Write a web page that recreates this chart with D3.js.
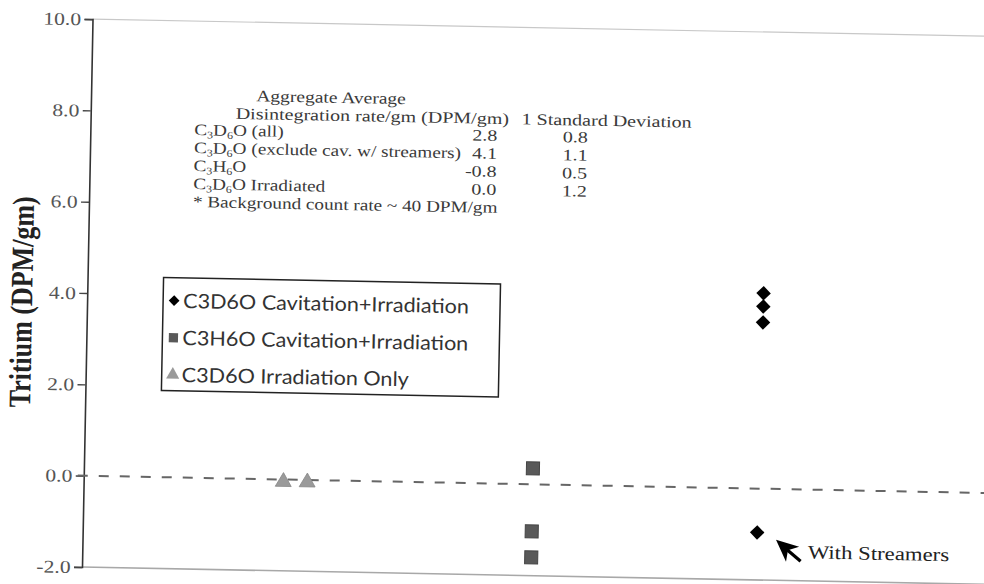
<!DOCTYPE html>
<html>
<head>
<meta charset="utf-8">
<script src="https://cdn.jsdelivr.net/npm/d3@7/dist/d3.min.js"></script>
<style>
  html, body { margin: 0; padding: 0; background: #fff; }
  svg { display: block; }
</style>
</head>
<body>
<svg id="chart" width="984" height="584"></svg>
<script>
// ---------------- data ----------------
const yTicks = [-2, 0, 2, 4, 6, 8, 10];
const yLabel = "Tritium (DPM/gm)";

// C3D6O Irradiation Only
const irrX = [2.17, 2.43];
const irrY = [-0.05, -0.05];
// C3H6O Cavitation+Irradiation
const h6X = [4.88, 4.88, 4.88];
const h6Y = [0.35, -1.03, -1.60];
// C3D6O Cavitation+Irradiation (last point = with streamers)
const d6X = [7.35, 7.35, 7.35, 7.33];
const d6Y = [4.28, 3.99, 3.64, -0.96];

const legendNames = ["C3D6O Cavitation+Irradiation", "C3H6O Cavitation+Irradiation", "C3D6O Irradiation Only"];

// summary table
const tableTitle1 = "Aggregate Average";
const tableTitle2 = "Disintegration rate/gm (DPM/gm)";
const tableTitle3 = "1 Standard Deviation";
const rowLabels = [
  [["C", ""], ["3", "sub"], ["D", ""], ["6", "sub"], ["O (all)", ""]],
  [["C", ""], ["3", "sub"], ["D", ""], ["6", "sub"], ["O (exclude cav. w/ streamers)", ""]],
  [["C", ""], ["3", "sub"], ["H", ""], ["6", "sub"], ["O", ""]],
  [["C", ""], ["3", "sub"], ["D", ""], ["6", "sub"], ["O Irradiated", ""]]
];
const rowAvg = ["2.8", "4.1", "-0.8", "0.0"];
const rowSD = ["0.8", "1.1", "0.5", "1.2"];
const footnote = "* Background count rate ~ 40 DPM/gm";
const annotation = "With Streamers";

// ---------------- layout ----------------
const W = 984, H = 584;
const mLeft = 82, mTop = 19, mBottom = 567, mRight = 1002;
const SX = 1.2; // horizontal stretch of the scanned text
const svg = d3.select("#chart");
svg.append("rect").attr("width", W).attr("height", H).attr("fill", "#fff");

const g = svg.append("g").attr("transform", `rotate(1.1, ${mLeft}, ${mBottom})`);

const x = d3.scaleLinear().domain([0, 10]).range([mLeft, mRight]);
const y = d3.scaleLinear().domain([-2, 10]).range([mBottom, mTop]);

const serif = "'Liberation Serif', 'Times New Roman', serif";
const sans = "Lato, 'Open Sans', sans-serif";

function stext(parent, px, py, sx) {
  return parent.append("text").attr("transform", `translate(${px},${py}) scale(${sx},1)`);
}

// top border & bottom axis line
g.append("line").attr("x1", mLeft).attr("x2", mRight + 20).attr("y1", y(10)).attr("y2", y(10))
  .attr("stroke", "#c8c8c8").attr("stroke-width", 1.2);
g.append("line").attr("x1", mLeft).attr("x2", mRight + 20).attr("y1", y(-2)).attr("y2", y(-2))
  .attr("stroke", "#a8a8a8").attr("stroke-width", 1.6);

// y axis
const yAxis = d3.axisLeft(y).tickValues(yTicks).tickFormat(d => d.toFixed(1)).tickSize(8).tickPadding(2);
const ya = g.append("g").attr("transform", `translate(${mLeft},0)`).call(yAxis);
ya.select(".domain").attr("stroke", "#333").attr("stroke-width", 1.6);
ya.selectAll(".tick line").attr("stroke", "#444").attr("stroke-width", 1.4);
ya.selectAll(".tick text")
  .attr("font-family", serif).attr("font-size", 18).attr("fill", "#555")
  .attr("x", -9.5).attr("transform", `scale(${SX},1)`);

// y label
g.append("text")
  .attr("transform", `translate(27, ${(y(10) + y(-2)) / 2 + 10}) scale(${SX},1) rotate(-90)`)
  .attr("text-anchor", "middle")
  .attr("font-family", serif).attr("font-weight", "bold").attr("font-size", 26).attr("fill", "#222")
  .text(yLabel);

// zero dashed line
g.append("line").attr("x1", mLeft - 6).attr("x2", mRight + 20).attr("y1", y(0)).attr("y2", y(0))
  .attr("stroke", "#666").attr("stroke-width", 2).attr("stroke-dasharray", "10,11");

// markers
const diamond = d3.symbol().type(d3.symbolSquare).size(105);
const square = d3.symbol().type(d3.symbolSquare).size(170);
const tri = d3.symbol().type(d3.symbolTriangle).size(110);

g.selectAll(".irr").data(irrX.map((v, i) => [v, irrY[i]])).join("path")
  .attr("d", tri).attr("transform", d => `translate(${x(d[0])},${y(d[1])})`)
  .attr("fill", "#9a9a9a").attr("stroke", "#888").attr("stroke-width", 0.8);

g.selectAll(".h6").data(h6X.map((v, i) => [v, h6Y[i]])).join("path")
  .attr("d", square).attr("transform", d => `translate(${x(d[0])},${y(d[1])})`)
  .attr("fill", "#595959").attr("stroke", "#444").attr("stroke-width", 1);

g.selectAll(".d6").data(d6X.map((v, i) => [v, d6Y[i]])).join("path")
  .attr("d", diamond).attr("transform", d => `translate(${x(d[0])},${y(d[1])}) rotate(45)`)
  .attr("fill", "#000");

// arrow annotation pointing to the streamer point
const sx = x(d6X[3]), sy = y(d6Y[3]);
const tip = [sx + 19, sy + 7], tail = [sx + 44, sy + 28];
g.append("line").attr("x1", tail[0]).attr("y1", tail[1]).attr("x2", tip[0] + 8).attr("y2", tip[1] + 7)
  .attr("stroke", "#000").attr("stroke-width", 3.2);
{
  const ang = Math.atan2(tail[1] - tip[1], tail[0] - tip[0]);
  const L = 22, Wd = 10;
  const bx = tip[0] + L * Math.cos(ang), by = tip[1] + L * Math.sin(ang);
  const px = -Math.sin(ang) * Wd, py = Math.cos(ang) * Wd;
  const notch = [tip[0] + 0.72 * L * Math.cos(ang), tip[1] + 0.72 * L * Math.sin(ang)];
  g.append("path")
    .attr("d", `M${tip[0]},${tip[1]} L${bx + px},${by + py} L${notch[0]},${notch[1]} L${bx - px},${by - py} Z`)
    .attr("fill", "#000");
}
stext(g, sx + 51, sy + 25, SX)
  .attr("font-family", serif).attr("font-size", 19).attr("fill", "#222").text(annotation);

// legend
const lg = g.append("g");
lg.append("rect").attr("x", 158).attr("y", 276).attr("width", 337).attr("height", 113)
  .attr("fill", "#fff").attr("stroke", "#222").attr("stroke-width", 1.5);
const legRows = [306, 343, 380];
const legSyms = [
  { d: d3.symbol().type(d3.symbolSquare).size(58)(), fill: "#000", rot: 45 },
  { d: d3.symbol().type(d3.symbolSquare).size(85)(), fill: "#595959", rot: 0 },
  { d: d3.symbol().type(d3.symbolTriangle).size(75)(), fill: "#9a9a9a", rot: 0 }
];
legendNames.forEach((name, i) => {
  lg.append("path").attr("d", legSyms[i].d)
    .attr("transform", `translate(169,${legRows[i] - 7}) rotate(${legSyms[i].rot})`)
    .attr("fill", legSyms[i].fill);
  stext(lg, 178, legRows[i], 1.08)
    .attr("font-family", sans).attr("font-size", 20).attr("fill", "#333").text(name);
});

// table
const tg = g.append("g").attr("font-family", serif).attr("font-size", 16).attr("fill", "#3a3a3a");
stext(tg, 322, 98, 1.22).attr("text-anchor", "middle").text(tableTitle1);
stext(tg, 227, 116, 1.25).text(tableTitle2);
stext(tg, 513, 116, 1.25).text(tableTitle3);
const rowY = [133, 151, 169, 187];
rowLabels.forEach((parts, i) => {
  const t = stext(tg, 186, rowY[i], 1.2);
  let shifted = false;
  parts.forEach(([s, kind]) => {
    if (kind === "sub") {
      t.append("tspan").attr("font-size", 10).attr("dy", 3).text(s);
      shifted = true;
    } else {
      const ts = t.append("tspan").text(s);
      if (shifted) { ts.attr("dy", -3); shifted = false; }
    }
  });
  stext(tg, 489, rowY[i], 1.25).attr("text-anchor", "end").text(rowAvg[i]);
  stext(tg, 567, rowY[i], 1.25).attr("text-anchor", "middle").text(rowSD[i]);
});
stext(tg, 186, 205, 1.2).text(footnote);
</script>
</body>
</html>
